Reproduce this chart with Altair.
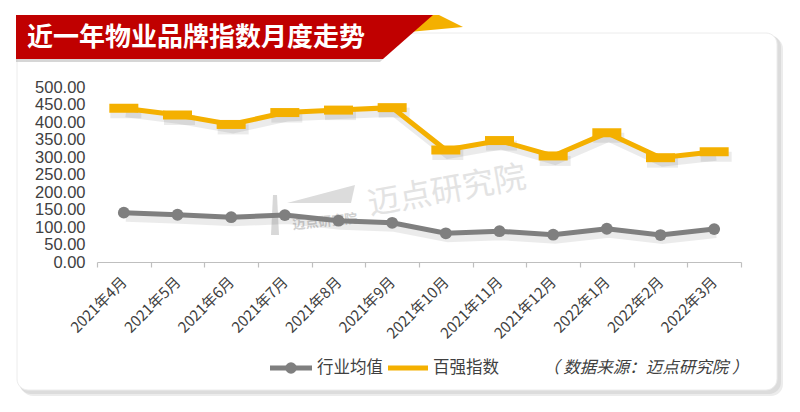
import altair as alt
import pandas as pd

# ---------------- data ----------------
MONTHS = ["2021年4月", "2021年5月", "2021年6月", "2021年7月", "2021年8月", "2021年9月",
          "2021年10月", "2021年11月", "2021年12月", "2022年1月", "2022年2月", "2022年3月"]
INDUSTRY_AVG = [141, 135, 128, 134, 118, 112, 82, 88, 78, 95, 77, 94]
TOP100 = [439, 420, 393, 427, 434, 441, 320, 347, 303, 369, 298, 315]
SERIES = ["行业均值", "百强指数"]
Y_TICKS = [0, 50, 100, 150, 200, 250, 300, 350, 400, 450, 500]
TITLE = "近一年物业品牌指数月度走势"
SOURCE = "（ 数据来源：迈点研究院 ）"
WATERMARK = "迈点研究院"

GRAY = "#7f7f7f"
ORANGE = "#F4B000"
RED = "#C00000"
TXT = "#404040"

df = pd.DataFrame({"month": MONTHS, "avg": INDUSTRY_AVG, "top": TOP100})

W, H = 644, 175
xenc = alt.X("month:N", sort=MONTHS, title=None,
             scale=alt.Scale(type="band", paddingInner=0, paddingOuter=0),
             axis=alt.Axis(labelAngle=-45, labelAlign="right", labelBaseline="middle",
                           labelFontSize=15, labelFont="Noto Sans CJK SC", labelColor=TXT,
                           labelPadding=12, labelOverlap=False, tickBand="extent",
                           domainColor="#bfbfbf", tickColor="#bfbfbf", tickSize=5,
                           domainWidth=1.2, tickWidth=1.2, grid=False, zindex=1))
yscale = alt.Scale(domain=[0, 500], nice=False)
yaxis = alt.Axis(values=Y_TICKS, format=".2f", labelFontSize=16.5, labelFont="Liberation Sans",
                 labelColor=TXT, domain=False, ticks=False, grid=False, labelPadding=12,
                 labelOverlap=False, labelBound=False, zindex=1)

one = pd.DataFrame({"k": [0]})


def poly(path, color, opacity=1.0):
    return alt.Chart(one).mark_point(shape=path, size=4, filled=True, fill=color,
                                     strokeWidth=0, opacity=opacity).encode(
        x=alt.value(0), y=alt.value(0))


def rect(x, y, x2, y2, color, radius=0, stroke=None, opacity=1.0):
    kw = dict(color=color, cornerRadius=radius, opacity=opacity)
    if stroke:
        kw.update(stroke=stroke, strokeWidth=1)
    return alt.Chart(one).mark_rect(**kw).encode(
        x=alt.value(x), y=alt.value(y), x2=alt.value(x2), y2=alt.value(y2))


# card with soft shadow (plot coords: page - (97, 87))
card_layers = [
    rect(-76, -50, 686, 309, "#ececec", radius=12),
    rect(-78, -52, 684, 307, "#dcdcdc", radius=12),
    rect(-80, -54, 680, 303, "#ffffff", radius=11, stroke="#ececec"),
]

# banner
orange_fold = poly("M 328 -72 L 342 -72 L 366 -60 L 312 -55 Z", ORANGE)
banner_shadow = poly("M -81 -28 L 286 -28 L 283 -25 L -81 -25 Z", "#bbbbbb", 0.6)
red_banner = poly("M -81 -72 L 336 -72 L 286 -28 L -81 -28 Z", RED)
title = alt.Chart(pd.DataFrame({"t": [TITLE]})).mark_text(
    align="left", baseline="middle", font="Noto Sans CJK SC", fontWeight="bold",
    fontSize=26, color="white").encode(x=alt.value(-70), y=alt.value(-49), text="t:N")

# watermark
wm_big = alt.Chart(pd.DataFrame({"t": [WATERMARK]})).mark_text(
    align="center", baseline="middle", font="Noto Sans CJK SC", fontSize=32,
    angle=350, color="#e3e3e3").encode(x=alt.value(350), y=alt.value(104), text="t:N")
wm_small = alt.Chart(pd.DataFrame({"t": [WATERMARK]})).mark_text(
    align="center", baseline="middle", font="Noto Sans CJK SC", fontSize=13,
    fontWeight="bold", angle=354, color="#d0d0d0").encode(
    x=alt.value(228), y=alt.value(135), text="t:N")
wm_wedge = poly("M 190 116 L 258 98 L 254 116 Z", "#dcdcdc")
wm_tower = poly("M 176 108 L 180 108 L 182 148 L 174 148 Z", "#d8d8d8")

base = alt.Chart(df)
sh = dict(opacity=0.08, color="black")
shadow_gray = base.mark_line(strokeWidth=8, xOffset=2, yOffset=5, **sh).encode(
    x=xenc, y=alt.Y("avg:Q", scale=yscale, axis=yaxis, title=None))
shadow_orange = base.mark_line(strokeWidth=8, xOffset=2, yOffset=5, **sh).encode(
    x=xenc, y=alt.Y("top:Q", scale=yscale, axis=yaxis, title=None))
shadow_ticks = base.mark_tick(size=31, thickness=10, xOffset=2, yOffset=5, **sh).encode(
    x=xenc, y=alt.Y("top:Q", scale=yscale, axis=yaxis, title=None))

line_gray = base.mark_line(color=GRAY, strokeWidth=5).encode(
    x=xenc, y=alt.Y("avg:Q", scale=yscale, axis=yaxis, title=None))
pts_gray = base.mark_circle(color=GRAY, size=140, opacity=1).encode(
    x=xenc, y=alt.Y("avg:Q", scale=yscale, axis=yaxis, title=None))
line_orange = base.mark_line(color=ORANGE, strokeWidth=5).encode(
    x=xenc, y=alt.Y("top:Q", scale=yscale, axis=yaxis, title=None))
ticks_orange = base.mark_tick(color=ORANGE, size=29, thickness=9, opacity=1).encode(
    x=xenc, y=alt.Y("top:Q", scale=yscale, axis=yaxis, title=None))

# legend (drawn manually)
LY = 281
leg = pd.DataFrame({"name": SERIES, "tx": [220, 336]})
leg_gray_line = alt.Chart(one).mark_rule(color=GRAY, strokeWidth=5).encode(
    x=alt.value(173), x2=alt.value(215), y=alt.value(LY))
leg_gray_pt = alt.Chart(one).mark_circle(color=GRAY, size=130, opacity=1).encode(
    x=alt.value(194), y=alt.value(LY))
leg_orange_line = alt.Chart(one).mark_rule(color=ORANGE, strokeWidth=5).encode(
    x=alt.value(291), x2=alt.value(331), y=alt.value(LY))
leg_text = alt.Chart(leg).mark_text(
    align="left", baseline="middle", font="Noto Sans CJK SC", fontSize=16.5,
    color=TXT).encode(x=alt.X("tx:Q", scale=None), y=alt.value(LY), text="name:N")
src_text = alt.Chart(pd.DataFrame({"t": [SOURCE]})).mark_text(
    align="left", baseline="middle", font="Noto Sans CJK SC", fontSize=16.5,
    fontStyle="italic", color=TXT).encode(x=alt.value(446), y=alt.value(LY), text="t:N")

chart = alt.layer(
    *card_layers, orange_fold, banner_shadow, red_banner, title,
    wm_big, wm_wedge, wm_tower, wm_small,
    shadow_gray, shadow_orange, shadow_ticks,
    line_gray, pts_gray, line_orange, ticks_orange,
    leg_gray_line, leg_gray_pt, leg_orange_line, leg_text, src_text,
).resolve_scale(x="shared", y="shared").properties(
    width=W, height=H,
    autosize=alt.AutoSizeParams(type="none"),
    padding={"left": 89, "top": 79, "right": 51, "bottom": 142},
    background="white",
).configure_view(stroke=None)

chart.save("out.html", embed_options={"renderer": "svg", "actions": False})
